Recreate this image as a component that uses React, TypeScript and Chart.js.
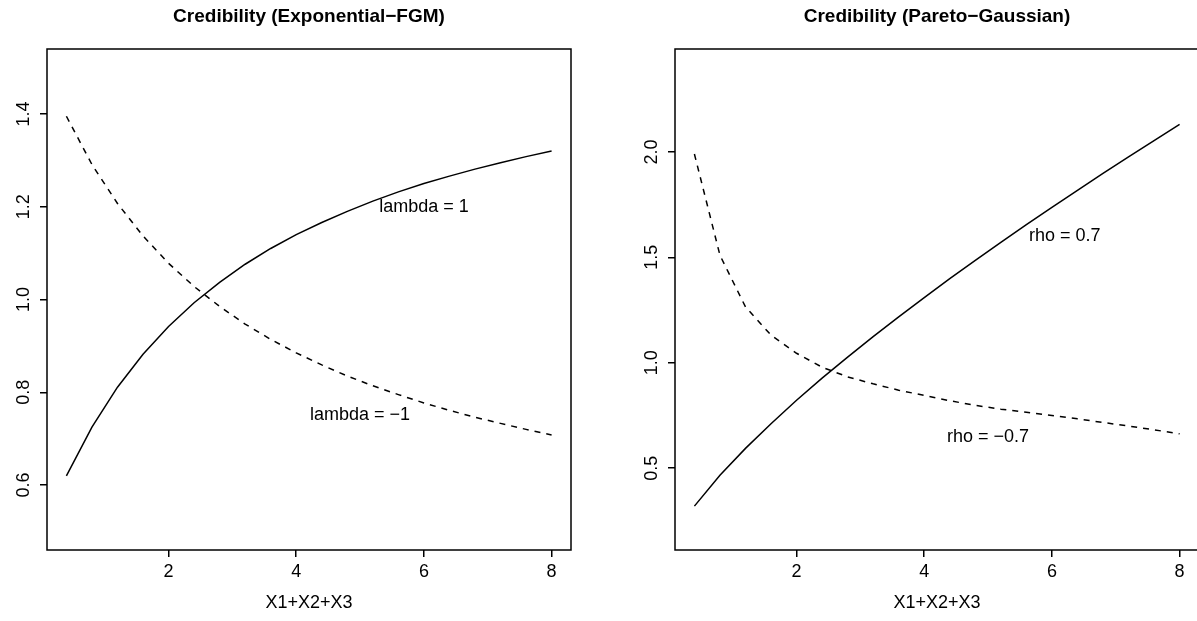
import React, { useEffect, useRef } from "react";
import { Chart, registerables } from "chart.js";

Chart.register(...registerables);

const FONT = '"Liberation Sans", Arial, Helvetica, sans-serif';

const xValues = [0.4, 0.8, 1.2, 1.6, 2.0, 2.4, 2.8, 3.2, 3.6, 4.0, 4.4, 4.8, 5.2, 5.6, 6.0, 6.4, 6.8, 7.2, 7.6, 8.0];

const expLambdaPos = [0.620, 0.725, 0.811, 0.882, 0.942, 0.993, 1.037, 1.076, 1.110, 1.140, 1.166, 1.190, 1.212, 1.232, 1.250, 1.266, 1.281, 1.295, 1.308, 1.320];
const expLambdaNeg = [1.395, 1.291, 1.207, 1.137, 1.078, 1.028, 0.985, 0.947, 0.914, 0.885, 0.859, 0.835, 0.814, 0.795, 0.777, 0.761, 0.746, 0.733, 0.720, 0.708];

const parRhoPos = [0.320, 0.466, 0.594, 0.711, 0.822, 0.927, 1.027, 1.124, 1.218, 1.309, 1.399, 1.486, 1.571, 1.655, 1.737, 1.818, 1.898, 1.976, 2.054, 2.130];
const parRhoNeg = [1.990, 1.510, 1.265, 1.131, 1.045, 0.979, 0.933, 0.900, 0.870, 0.845, 0.820, 0.798, 0.780, 0.765, 0.750, 0.734, 0.717, 0.700, 0.682, 0.663];

const xTickValues = [2, 4, 6, 8];
const xTickLabels = ["2", "4", "6", "8"];
const xRange = [0.096, 8.304];

const leftYTickValues = [0.6, 0.8, 1.0, 1.2, 1.4];
const leftYTickLabels = ["0.6", "0.8", "1.0", "1.2", "1.4"];
const leftYRange = [0.46, 1.54];

const rightYTickValues = [0.5, 1.0, 1.5, 2.0];
const rightYTickLabels = ["0.5", "1.0", "1.5", "2.0"];
const rightYRange = [0.112, 2.488];

const titles = ["Credibility (Exponential\u2212FGM)", "Credibility (Pareto\u2212Gaussian)"];
const xAxisTitle = "X1+X2+X3";

const leftNoteTexts = ["lambda = 1", "lambda = \u22121"];
const leftNoteX = [6, 5];
const leftNoteY = [1.2, 0.75];
const rightNoteTexts = ["rho = 0.7", "rho = \u22120.7"];
const rightNoteX = [6.2, 5];
const rightNoteY = [1.6, 0.65];

const framePlugin = {
  id: "frame",
  afterDraw(chart: any, _args: any, opts: any) {
    const { ctx, chartArea } = chart;
    const { left, top, right, bottom } = chartArea;
    ctx.save();
    ctx.strokeStyle = "#000";
    ctx.lineWidth = 1.5;
    ctx.strokeRect(left, top, right - left, bottom - top);
    ctx.fillStyle = "#000";
    ctx.font = `18px ${FONT}`;
    ctx.textAlign = "center";
    ctx.textBaseline = "middle";
    const xs = chart.scales.x;
    const ys = chart.scales.y;
    const texts: string[] = opts.texts || [];
    for (let i = 0; i < texts.length; i++) {
      ctx.fillText(texts[i], xs.getPixelForValue(opts.xs[i]), ys.getPixelForValue(opts.ys[i]));
    }
    ctx.restore();
  },
};

type PanelProps = {
  left: number;
  title: string;
  solid: number[];
  dashed: number[];
  yRange: number[];
  yTicks: number[];
  yLabels: string[];
  noteTexts: string[];
  noteX: number[];
  noteY: number[];
};

function Panel(p: PanelProps) {
  const ref = useRef<HTMLCanvasElement | null>(null);
  useEffect(() => {
    if (!ref.current) return;
    const chart = new Chart(ref.current, {
      type: "line",
      data: {
        datasets: [
          {
            data: xValues.map((x, i) => ({ x, y: p.solid[i] })),
            borderColor: "#000",
            borderWidth: 1.5,
            pointRadius: 0,
            tension: 0,
            fill: false,
          },
          {
            data: xValues.map((x, i) => ({ x, y: p.dashed[i] })),
            borderColor: "#000",
            borderWidth: 1.5,
            borderDash: [6, 6],
            pointRadius: 0,
            tension: 0,
            fill: false,
          },
        ],
      },
      options: {
        animation: false,
        responsive: false,
        devicePixelRatio: 1,
        layout: { padding: { left: 0, right: 29, top: 0, bottom: 0 } },
        plugins: {
          legend: { display: false },
          tooltip: { enabled: false },
          title: {
            display: true,
            text: p.title,
            color: "#000",
            fullSize: false,
            font: { family: FONT, size: 19, weight: "bold" },
            padding: { top: 5, bottom: 21.2 },
          },
          frame: { texts: p.noteTexts, xs: p.noteX, ys: p.noteY },
        } as any,
        scales: {
          x: {
            type: "linear",
            min: xRange[0],
            max: xRange[1],
            afterBuildTicks: (s: any) => {
              s.ticks = xTickValues.map((v) => ({ value: v }));
            },
            afterFit: (s: any) => {
              s.height = 71;
            },
            ticks: {
              color: "#000",
              font: { family: FONT, size: 18 },
              padding: 4,
              minRotation: 0,
              maxRotation: 0,
              callback: (_v: any, i: number) => xTickLabels[i],
            },
            grid: {
              display: true,
              drawOnChartArea: false,
              drawTicks: true,
              tickLength: 7,
              color: "#000",
              lineWidth: 1.5,
            },
            border: { display: false },
            title: {
              display: true,
              text: xAxisTitle,
              color: "#000",
              font: { family: FONT, size: 18 },
              padding: { top: 0, bottom: 7 },
            },
          },
          y: {
            type: "linear",
            min: p.yRange[0],
            max: p.yRange[1],
            afterBuildTicks: (s: any) => {
              s.ticks = p.yTicks.map((v) => ({ value: v }));
            },
            afterFit: (s: any) => {
              s.width = 47;
            },
            ticks: {
              color: "#000",
              font: { family: FONT, size: 18 },
              padding: 3,
              minRotation: 90,
              maxRotation: 90,
              crossAlign: "center",
              callback: (_v: any, i: number) => p.yLabels[i],
            },
            grid: {
              display: true,
              drawOnChartArea: false,
              drawTicks: true,
              tickLength: 7,
              color: "#000",
              lineWidth: 1.5,
            },
            border: { display: false },
          },
        },
      } as any,
      plugins: [framePlugin],
    });
    return () => chart.destroy();
  }, []);
  return (
    <canvas
      ref={ref}
      width={600}
      height={621}
      style={{ position: "absolute", left: p.left, top: 0, width: 600, height: 621, display: "block" }}
    />
  );
}

export default function App() {
  return (
    <div
      style={{
        position: "absolute",
        left: 0,
        top: 0,
        width: 1197,
        height: 621,
        overflow: "hidden",
        background: "#fff",
      }}
    >
      <Panel
        left={0}
        title={titles[0]}
        solid={expLambdaPos}
        dashed={expLambdaNeg}
        yRange={leftYRange}
        yTicks={leftYTickValues}
        yLabels={leftYTickLabels}
        noteTexts={leftNoteTexts}
        noteX={leftNoteX}
        noteY={leftNoteY}
      />
      <Panel
        left={628}
        title={titles[1]}
        solid={parRhoPos}
        dashed={parRhoNeg}
        yRange={rightYRange}
        yTicks={rightYTickValues}
        yLabels={rightYTickLabels}
        noteTexts={rightNoteTexts}
        noteX={rightNoteX}
        noteY={rightNoteY}
      />
    </div>
  );
}
